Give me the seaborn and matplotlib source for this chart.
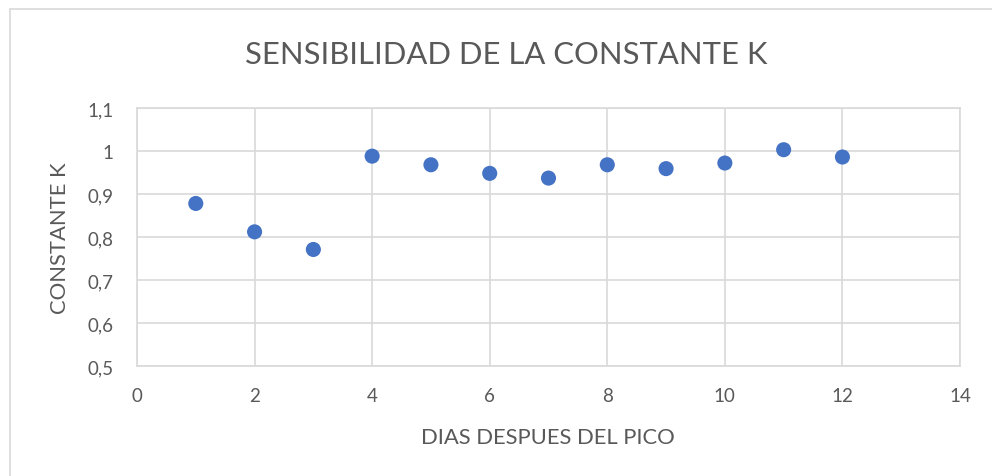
import matplotlib
matplotlib.use("Agg")
import matplotlib.pyplot as plt
import seaborn as sns
import pandas as pd
from matplotlib.lines import Line2D
from matplotlib.ticker import FuncFormatter, MultipleLocator

# Days after the peak and the fitted constant K for each day
dias = [1, 2, 3, 4, 5, 6, 7, 8, 9, 10, 11, 12]
constante_k = [0.878, 0.812, 0.771, 0.988, 0.968, 0.948, 0.937, 0.968, 0.959, 0.972, 1.003, 0.986]

titulo = "SENSIBILIDAD DE LA CONSTANTE K"
etiqueta_x = "DIAS DESPUES DEL PICO"
etiqueta_y = "CONSTANTE K"

df = pd.DataFrame({"dias": dias, "k": constante_k})

sns.set_theme(style="white")
plt.rcParams["font.family"] = ["Lato", "DejaVu Sans"]

TEXT = "#595959"
GRID = "#D9D9D9"
BLUE = "#4472C4"

W, H = 992, 477
fig = plt.figure(figsize=(W / 100, H / 100), dpi=100)
fig.patch.set_facecolor("white")

# plot area in pixel coordinates
left, right, top, bottom = 137, 960, 109, 367
ax = fig.add_axes([left / W, 1 - bottom / H, (right - left) / W, (bottom - top) / H])

sns.scatterplot(data=df, x="dias", y="k", ax=ax, s=118, color=BLUE,
                edgecolor="none", linewidth=0, zorder=3, legend=False)

ax.set_xlim(0, 14)
ax.set_ylim(0.5, 1.1)
ax.xaxis.set_major_locator(MultipleLocator(2))
ax.yaxis.set_major_locator(MultipleLocator(0.1))


def coma(v, _):
    s = f"{v:.1f}".rstrip("0").rstrip(".")
    return s.replace(".", ",")


ax.yaxis.set_major_formatter(FuncFormatter(coma))
ax.xaxis.set_major_formatter(FuncFormatter(lambda v, _: f"{int(round(v))}"))

ax.grid(True, color=GRID, linewidth=1.2)
ax.set_axisbelow(True)
for sp in ax.spines.values():
    sp.set_color(GRID)
    sp.set_linewidth(1.2)
ax.tick_params(axis="both", length=0, labelsize=13.5, labelcolor=TEXT)
ax.tick_params(axis="y", pad=17)
ax.tick_params(axis="x", pad=15)
ax.set_xlabel("")
ax.set_ylabel("")

fig.text(506 / W, 1 - 55 / H, titulo, ha="center", va="center", fontsize=22.3, color=TEXT)
fig.text(548 / W, 1 - 438 / H, etiqueta_x, ha="center", va="center", fontsize=15.8, color=TEXT)
fig.text(60 / W, 1 - 238 / H, etiqueta_y, ha="center", va="center", rotation=90,
         fontsize=15.8, color=TEXT)

# outer chart frame (top and left edges)
fig.add_artist(Line2D([10 / W, 1], [1 - 10 / H, 1 - 10 / H], transform=fig.transFigure,
                      color=GRID, linewidth=1.2))
fig.add_artist(Line2D([10 / W, 10 / W], [1 - 10 / H, 0], transform=fig.transFigure,
                      color=GRID, linewidth=1.2))

fig.savefig("out.png", dpi=100, facecolor="white")
